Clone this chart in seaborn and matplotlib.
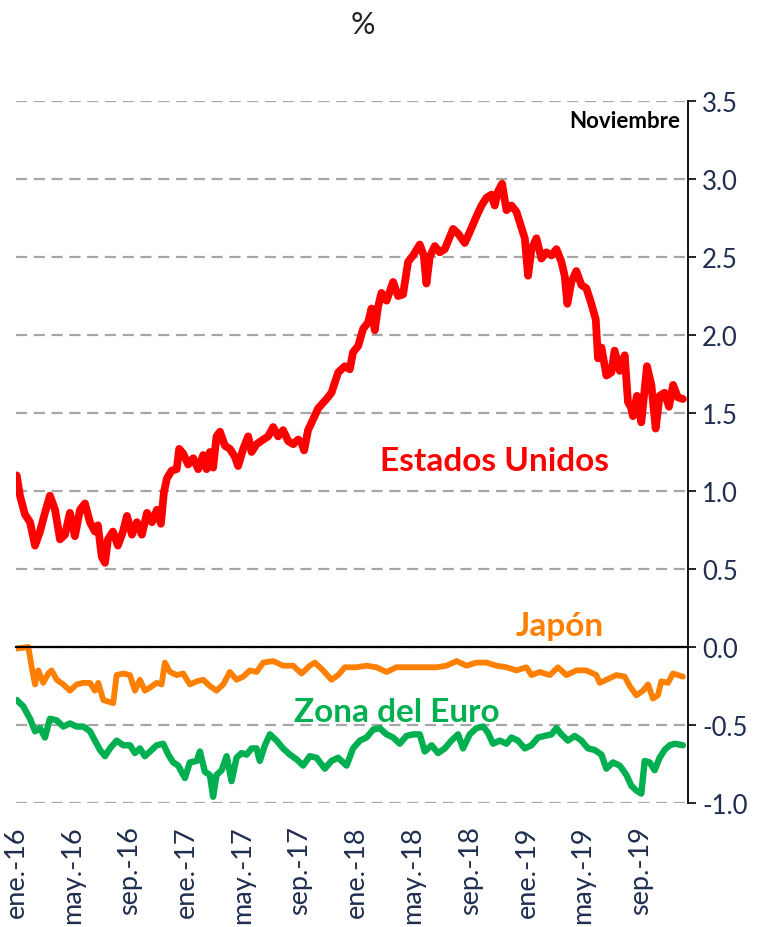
import numpy as np
import pandas as pd
import matplotlib
matplotlib.use("Agg")
import matplotlib.pyplot as plt
import matplotlib.dates as mdates
import seaborn as sns

# x positions are months elapsed since 1 Jan 2016
us_months = [0.05, 0.28, 0.63, 0.99, 1.34, 1.69, 2.04, 2.39, 2.75, 3.10, 3.45, 3.80, 4.15, 4.51,
             4.86, 5.21, 5.56, 5.77, 6.04, 6.27, 6.48, 6.83, 7.18, 7.54, 7.82, 8.17, 8.52, 8.87,
             9.23, 9.58, 9.93, 10.21, 10.42, 10.63, 10.96, 11.32, 11.50, 11.78, 12.13, 12.49,
             12.84, 13.19, 13.43, 13.66, 13.89, 14.13, 14.37, 14.72, 15.07, 15.42, 15.65, 16.01,
             16.36, 16.60, 16.95, 17.42, 17.77, 18.12, 18.47, 18.82, 19.18, 19.53, 19.88, 20.12,
             20.30, 20.58, 20.94, 21.29, 21.88, 22.23, 22.70, 23.17, 23.52, 23.75, 24.11, 24.46,
             24.81, 25.05, 25.28, 25.51, 25.75, 26.11, 26.57, 26.92, 27.27, 27.63, 27.98, 28.45,
             28.73, 28.92, 29.15, 29.51, 29.86, 30.21, 30.44, 30.80, 31.15, 31.62, 31.97, 32.44,
             32.80, 33.15, 33.50, 33.73, 33.96, 34.25, 34.56, 34.91, 35.26, 35.61, 35.85, 36.08,
             36.32, 36.67, 37.02, 37.37, 37.73, 38.08, 38.43, 38.66, 38.85, 39.13, 39.48, 39.84,
             40.19, 40.54, 40.85, 41.01, 41.25, 41.60, 41.95, 42.18, 42.54, 42.89, 43.12, 43.36,
             43.47, 43.75, 44.06, 44.46, 44.77, 45.07, 45.35, 45.70, 46.01, 46.30, 46.64, 46.99]
us_values = [1.10, 0.97, 0.85, 0.80, 0.65, 0.74, 0.86, 0.97, 0.88, 0.69, 0.72, 0.86, 0.71, 0.88,
             0.92, 0.80, 0.74, 0.78, 0.58, 0.54, 0.69, 0.74, 0.65, 0.74, 0.84, 0.72, 0.80, 0.72,
             0.86, 0.80, 0.88, 0.79, 0.99, 1.08, 1.13, 1.14, 1.27, 1.24, 1.17, 1.21,
             1.14, 1.23, 1.14, 1.25, 1.15, 1.35, 1.38, 1.29, 1.27, 1.22, 1.16, 1.27,
             1.35, 1.25, 1.30, 1.33, 1.35, 1.41, 1.35, 1.39, 1.32, 1.30, 1.33, 1.31,
             1.26, 1.39, 1.46, 1.53, 1.59, 1.63, 1.76, 1.80, 1.78, 1.89, 1.93, 2.04,
             2.08, 2.17, 2.03, 2.18, 2.27, 2.22, 2.34, 2.25, 2.26, 2.47, 2.51, 2.58,
             2.51, 2.33, 2.50, 2.57, 2.53, 2.55, 2.60, 2.68, 2.65, 2.59, 2.66, 2.76,
             2.83, 2.88, 2.90, 2.83, 2.92, 2.97, 2.80, 2.83, 2.79, 2.69, 2.62, 2.38,
             2.55, 2.62, 2.49, 2.53, 2.51, 2.55, 2.47, 2.38, 2.20, 2.34, 2.41, 2.32,
             2.30, 2.20, 2.10, 1.85, 1.92, 1.74, 1.76, 1.90, 1.77, 1.87, 1.57, 1.53,
             1.48, 1.61, 1.44, 1.80, 1.68, 1.40, 1.61, 1.63, 1.54, 1.68, 1.60, 1.59]

jp_months = [0.05, 0.87, 1.11, 1.34, 1.57, 1.92, 2.27, 2.51, 2.87, 3.33, 3.80, 4.27, 4.74, 5.21,
             5.56, 5.80, 6.15, 6.50, 6.85, 7.09, 7.56, 8.03, 8.38, 8.73, 9.08, 9.44, 9.91, 10.26,
             10.49, 10.85, 11.32, 11.78, 12.25, 12.73, 13.19, 13.66, 14.13, 14.60, 15.07, 15.54,
             16.01, 16.48, 16.95, 17.42, 18.12, 18.82, 19.53, 20.12, 20.70, 21.06, 21.64, 22.23,
             22.70, 23.17, 23.99, 24.70, 25.40, 26.11, 26.81, 27.51, 28.22, 28.92, 29.63, 30.33,
             31.04, 31.74, 32.44, 33.15, 33.85, 34.56, 35.26, 35.96, 36.32, 36.90, 37.61, 38.19,
             38.78, 39.49, 40.19, 40.89, 41.13, 41.60, 42.30, 42.89, 43.24, 43.71, 44.18, 44.53,
             44.88, 45.23, 45.47, 45.94, 46.29, 46.64, 46.99]
jp_values = [-0.01, 0.00, -0.13, -0.24, -0.15, -0.23, -0.17, -0.15, -0.21, -0.24, -0.28, -0.24, -0.23, -0.23,
             -0.28, -0.23, -0.34, -0.35, -0.36, -0.18, -0.17, -0.18, -0.28, -0.21, -0.28, -0.26, -0.23, -0.24,
             -0.10, -0.16, -0.18, -0.17, -0.24, -0.22, -0.21, -0.25, -0.28, -0.24, -0.16, -0.21,
             -0.19, -0.15, -0.16, -0.10, -0.09, -0.12, -0.12, -0.17, -0.12, -0.10, -0.15, -0.21,
             -0.18, -0.13, -0.13, -0.12, -0.13, -0.16, -0.13, -0.13, -0.13, -0.13, -0.13, -0.12,
             -0.09, -0.12, -0.10, -0.10, -0.12, -0.13, -0.15, -0.13, -0.18, -0.16, -0.18, -0.13,
             -0.18, -0.15, -0.15, -0.18, -0.23, -0.21, -0.18, -0.19, -0.25, -0.31, -0.28, -0.24,
             -0.33, -0.31, -0.22, -0.23, -0.17, -0.18, -0.19]

eu_months = [0.05, 0.51, 0.99, 1.34, 1.69, 2.04, 2.39, 2.87, 3.33, 3.80, 4.27, 4.74, 5.21, 5.56,
             5.92, 6.27, 6.62, 7.09, 7.56, 8.03, 8.38, 8.73, 9.08, 9.44, 9.91, 10.37, 10.73, 11.08,
             11.43, 11.90, 12.25, 12.73, 12.96, 13.31, 13.66, 13.89, 14.13, 14.49, 14.84, 15.19,
             15.54, 15.89, 16.25, 16.60, 16.95, 17.18, 17.54, 17.89, 18.36, 18.82, 19.30, 19.77,
             20.23, 20.70, 21.18, 21.76, 22.23, 22.70, 23.29, 23.75, 24.23, 24.70, 25.16, 25.63,
             26.11, 26.57, 27.04, 27.51, 27.98, 28.45, 28.80, 29.28, 29.74, 30.21, 30.68, 31.15,
             31.50, 31.97, 32.44, 32.91, 33.26, 33.61, 34.08, 34.56, 34.91, 35.37, 35.85, 36.32,
             36.78, 37.25, 37.73, 38.08, 38.43, 38.89, 39.37, 39.84, 40.30, 40.77, 41.25, 41.60,
             42.06, 42.54, 43.01, 43.36, 43.71, 44.06, 44.30, 44.65, 45.00, 45.35, 45.70, 46.06,
             46.41, 46.99]
eu_values = [-0.34, -0.38, -0.46, -0.54, -0.52, -0.58, -0.46, -0.47, -0.51, -0.49, -0.51, -0.51, -0.54, -0.60,
             -0.66, -0.70, -0.65, -0.60, -0.63, -0.63, -0.68, -0.65, -0.70, -0.67, -0.63, -0.62, -0.69, -0.74,
             -0.76, -0.84, -0.74, -0.73, -0.67, -0.80, -0.82, -0.96, -0.82, -0.79, -0.70, -0.86,
             -0.71, -0.68, -0.69, -0.65, -0.65, -0.73, -0.63, -0.56, -0.60, -0.65, -0.69, -0.72,
             -0.76, -0.70, -0.71, -0.78, -0.73, -0.71, -0.76, -0.65, -0.60, -0.58, -0.53, -0.52,
             -0.56, -0.58, -0.62, -0.57, -0.56, -0.56, -0.67, -0.63, -0.68, -0.65, -0.60, -0.56,
             -0.65, -0.56, -0.52, -0.51, -0.55, -0.62, -0.60, -0.62, -0.58, -0.60, -0.65, -0.63,
             -0.58, -0.57, -0.56, -0.52, -0.56, -0.60, -0.57, -0.60, -0.65, -0.66, -0.69, -0.78,
             -0.74, -0.76, -0.82, -0.89, -0.92, -0.94, -0.73, -0.74, -0.79, -0.71, -0.66, -0.63,
             -0.62, -0.63]

tick_dates = pd.date_range("2016-01-01", "2019-09-01", freq="4MS")
tick_labels = ["ene.-16", "may.-16", "sep.-16", "ene.-17", "may.-17", "sep.-17",
               "ene.-18", "may.-18", "sep.-18", "ene.-19", "may.-19", "sep.-19"]
y_ticks = [-1.0, -0.5, 0.0, 0.5, 1.0, 1.5, 2.0, 2.5, 3.0, 3.5]

start = pd.Timestamp("2016-01-01")
DAYS_PER_MONTH = 30.4375


def to_dates(months):
    return start + pd.to_timedelta(np.array(months) * DAYS_PER_MONTH, unit="D")


sns.set_style("white")
plt.rcParams["font.family"] = ["Lato", "DejaVu Sans"]

navy = "#1f2d4e"
red, orange, green = "#ff0000", "#ff7f00", "#00b050"

fig = plt.figure(figsize=(7.68, 9.28), dpi=100)
ax = fig.add_axes([16 / 768, 124 / 928, 672 / 768, 702 / 928])

# thick lines, drawn back to front like the original
sns.lineplot(x=to_dates(eu_months), y=eu_values, ax=ax, color=green, lw=4.6,
             estimator=None, sort=False)
sns.lineplot(x=to_dates(jp_months), y=jp_values, ax=ax, color=orange, lw=4.2,
             estimator=None, sort=False)
sns.lineplot(x=to_dates(us_months), y=us_values, ax=ax, color=red, lw=5.6,
             estimator=None, sort=False)

ax.set_xlim(start, start + pd.Timedelta(days=47.35 * DAYS_PER_MONTH))
ax.set_ylim(-1.0, 3.5)

# y axis on the right
ax.yaxis.tick_right()
ax.set_yticks(y_ticks)
ax.set_yticklabels([f"{v:.1f}" for v in y_ticks], fontsize=18.5, color=navy)
ax.tick_params(axis="y", direction="out", length=6, width=1.2, color="black", pad=4)
ax.grid(axis="y", color="#a6a6a6", linestyle=(0, (5, 3)), lw=1.6)
ax.grid(axis="x", visible=False)

for side in ["top", "left"]:
    ax.spines[side].set_visible(False)
ax.spines["right"].set_color("black")
ax.spines["right"].set_linewidth(1.3)
ax.spines["bottom"].set_position(("data", 0))
ax.spines["bottom"].set_color("black")
ax.spines["bottom"].set_linewidth(1.6)
ax.spines["bottom"].set_zorder(3)

# tick marks on the zero line, labels below the plot
ax.set_xticks(mdates.date2num(tick_dates))
ax.tick_params(axis="x", direction="out", length=7, width=1.4, color="black",
               labelbottom=False)
sec = ax.secondary_xaxis("bottom")
sec.set_xticks(mdates.date2num(tick_dates))
sec.set_xticklabels(tick_labels, rotation=90, fontsize=19.5, color=navy)
sec.tick_params(length=0, pad=16)
sec.spines["bottom"].set_visible(False)
ax.set_xlabel("")
ax.set_ylabel("")

fig.text(363 / 768, 1 - 25 / 928, "%", ha="center", va="center", fontsize=22, color="#222222")
fig.text(680 / 768, 1 - 122 / 928, "Noviembre", ha="right", va="center", fontsize=16,
         fontweight="bold", color="black")
fig.text(495 / 768, 1 - 462 / 928, "Estados Unidos", ha="center", va="center", fontsize=24,
         fontweight="bold", color=red)
fig.text(560 / 768, 1 - 627 / 928, "Japón", ha="center", va="center", fontsize=24,
         fontweight="bold", color=orange)
fig.text(397 / 768, 1 - 712 / 928, "Zona del Euro", ha="center", va="center", fontsize=24,
         fontweight="bold", color=green)

fig.savefig("out.png", dpi=100)
